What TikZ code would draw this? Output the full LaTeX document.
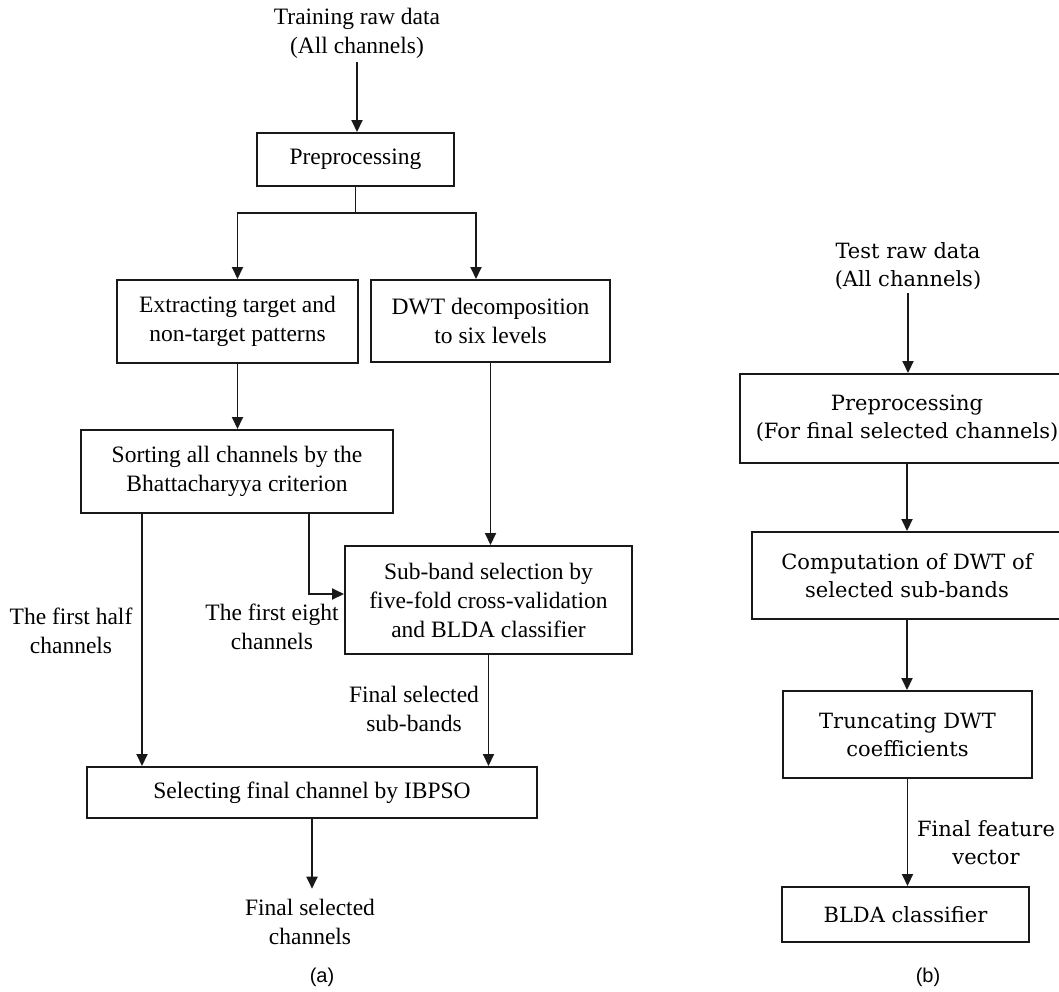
\documentclass[tikz,border=0pt]{standalone}
\usepackage{fontspec}
\setmainfont{Liberation Serif}
\newfontfamily\rfont{DejaVu Serif}
\newfontfamily\capfont{Liberation Sans}
\usetikzlibrary{arrows.meta}
\begin{document}
\begin{tikzpicture}[x=1pt,y=-1pt,
  lt/.style={font=\fontsize{23.5}{29}\selectfont, align=center},
  rt/.style={font=\rfont\fontsize{21}{28}\selectfont, align=center},
  box/.style={draw=black!90, line width=2pt, inner sep=0pt, align=center},
  arr/.style={draw=black!90, line width=1.9pt, -{Triangle[length=12pt,width=11pt]}},
  ln/.style={draw=black!90, line width=1.9pt},
  captxt/.style={font=\capfont\fontsize{20}{24}\selectfont}]
\clip (0,0) rectangle (1059,991);
\fill[white] (0,0) rectangle (1059,991);

% ---- panel (a)
\node[lt, anchor=north] (train) at (357,5) {Training raw data\\(All channels)};
\node[box, lt, minimum width=197pt, minimum height=53pt] (pre) at (355.5,159.5) {Preprocessing};
\node[box, lt, minimum width=241pt, minimum height=83pt] (ext) at (237.5,321.5) {Extracting target and\\non-target patterns};
\node[box, lt, minimum width=239pt, minimum height=82pt] (dwt) at (490.5,321) {DWT decomposition\\to six levels};
\node[box, lt, minimum width=312pt, minimum height=83pt] (sort) at (237,471.5) {Sorting all channels by the\\Bhattacharyya criterion};
\node[box, lt, minimum width=287pt, minimum height=108pt] (sub) at (488.5,600) {Sub-band selection by\\five-fold cross-validation\\and BLDA classifier};
\node[box, lt, minimum width=450pt, minimum height=51pt] (sel) at (312,792.5) {Selecting final channel by IBPSO};
\node[lt] (fsc) at (310,922) {Final selected\\channels};
\node[captxt] (capa) at (322,977) {(a)};

\node[lt] (lhalf) at (71,631) {The first half\\channels};
\node[lt] (leight) at (272,627) {The first eight\\channels};
\node[lt] (lsub) at (414,709) {Final selected\\sub-bands};

\coordinate (sp) at (355.5,213);
\draw[arr] (train.south) -- (train.south |- pre.north);
\draw[ln] (pre.south) -- (sp);
\draw[arr] (sp) -| (ext.north);
\draw[arr] (sp) -| ([xshift=-14.5pt]dwt.north);
\draw[arr] (ext.south) -- (ext.south |- sort.north);
\draw[arr] (dwt.south) -- (dwt.south |- sub.north);
\draw[arr] ([xshift=72pt]sort.south) |- ([yshift=6pt]sub.west);
\draw[arr] ([xshift=-95pt]sort.south) -- ([xshift=-95pt]sort.south |- sel.north);
\draw[arr] (sub.south) -- (sub.south |- sel.north);
\draw[arr, shorten >=7pt] (sel.south) -- (sel.south |- fsc.north);

% ---- panel (b)
\node[rt] (test) at (908,266) {Test raw data\\(All channels)};
\node[box, rt, minimum width=334pt, minimum height=89pt] (pre2) at (907,418.5) {Preprocessing\\(For final selected channels)};
\node[box, rt, minimum width=310pt, minimum height=87pt] (comp) at (907,575.5) {Computation of DWT of\\selected sub-bands};
\node[box, rt, minimum width=249pt, minimum height=87pt] (trunc) at (907.5,734.5) {Truncating DWT\\coefficients};
\node[box, rt, minimum width=247pt, minimum height=55pt] (blda) at (905.5,914.5) {BLDA classifier};
\node[rt] (lfeat) at (986,843) {Final feature\\vector};
\node[captxt] (capb) at (928,977) {(b)};

\draw[arr] (test.south) -- (test.south |- pre2.north);
\draw[arr] (pre2.south) -- (pre2.south |- comp.north);
\draw[arr] (comp.south) -- (comp.south |- trunc.north);
\draw[arr] (trunc.south) -- (trunc.south |- blda.north);
\end{tikzpicture}
\end{document}
